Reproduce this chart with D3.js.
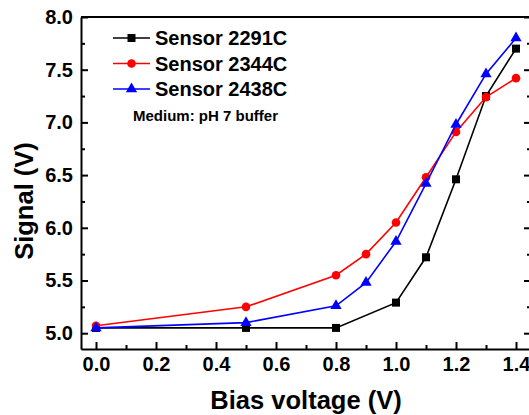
<!DOCTYPE html>
<html>
<head>
<meta charset="utf-8">
<script src="https://cdn.jsdelivr.net/npm/d3@7"></script>
<style>
  html, body { margin: 0; padding: 0; background: #fff; }
  svg { display: block; font-family: "Liberation Sans", Arial, sans-serif; font-weight: bold; }
  .axis path, .axis line { stroke: #000; stroke-width: 2; }
  .axis text { font-size: 20px; fill: #000; }
</style>
</head>
<body>
<svg id="chart" width="529" height="415"></svg>
<script>
// data
const biasBlack = [0.0, 0.5, 0.8, 1.0, 1.1, 1.2, 1.3, 1.4];
const sensor2291 = [5.05, 5.05, 5.05, 5.29, 5.72, 6.46, 7.25, 7.70];
const biasOther = [0.0, 0.5, 0.8, 0.9, 1.0, 1.1, 1.2, 1.3, 1.4];
const sensor2344 = [5.07, 5.25, 5.55, 5.75, 6.05, 6.48, 6.91, 7.24, 7.42];
const sensor2438 = [5.05, 5.10, 5.26, 5.48, 5.87, 6.42, 6.98, 7.46, 7.80];
const seriesNames = ["Sensor 2291C", "Sensor 2344C", "Sensor 2438C"];
const xTickValues = [0, 0.2, 0.4, 0.6, 0.8, 1.0, 1.2, 1.4];
const yTickValues = [5.0, 5.5, 6.0, 6.5, 7.0, 7.5, 8.0];

const svg = d3.select("#chart");
const margin = { left: 81, top: 17, right: 531, bottom: 349 };

const x = d3.scaleLinear().domain([-0.05, 1.45]).range([margin.left, margin.right]);
const y = d3.scaleLinear().domain([4.85, 8.0]).range([margin.bottom, margin.top]);

const xMinor = d3.range(0.1, 1.45, 0.2);
const yMinor = d3.range(5.25, 8.0, 0.5);
const fmt = d3.format(".1f");

// minor ticks
svg.append("g").attr("class", "axis").attr("transform", `translate(0,${margin.bottom})`)
  .call(d3.axisBottom(x).tickValues(xMinor).tickSize(-4).tickFormat(""))
  .call((g) => g.select(".domain").remove());
svg.append("g").attr("class", "axis").attr("transform", `translate(${margin.left},0)`)
  .call(d3.axisLeft(y).tickValues(yMinor).tickSize(-4).tickFormat(""))
  .call((g) => g.select(".domain").remove());
svg.append("g").attr("class", "axis").attr("transform", `translate(${margin.right},0)`)
  .call(d3.axisRight(y).tickValues(yMinor).tickSize(-4).tickFormat(""))
  .call((g) => g.select(".domain").remove());

// major ticks and labels
svg.append("g").attr("class", "axis").attr("transform", `translate(0,${margin.bottom})`)
  .call(d3.axisBottom(x).tickValues(xTickValues).tickSizeInner(-7).tickSizeOuter(0).tickPadding(8).tickFormat(fmt));
svg.append("g").attr("class", "axis").attr("transform", `translate(${margin.left},0)`)
  .call(d3.axisLeft(y).tickValues(yTickValues).tickSizeInner(-7).tickSizeOuter(0).tickPadding(8).tickFormat(fmt));
svg.append("g").attr("class", "axis").attr("transform", `translate(${margin.right},0)`)
  .call(d3.axisRight(y).tickValues(yTickValues).tickSizeInner(-7).tickSizeOuter(0).tickFormat(""));
svg.append("line")
  .attr("x1", margin.left).attr("x2", margin.right)
  .attr("y1", margin.top).attr("y2", margin.top)
  .attr("stroke", "#000").attr("stroke-width", 2);

// series
const series = [
  { name: seriesNames[0], xs: biasBlack, ys: sensor2291, color: "#000", symbol: d3.symbolSquare, size: 64 },
  { name: seriesNames[1], xs: biasOther, ys: sensor2344, color: "#ff0000", symbol: d3.symbolCircle, size: 58 },
  { name: seriesNames[2], xs: biasOther, ys: sensor2438, color: "#0000ff", symbol: d3.symbolTriangle, size: 55 },
];

const line = d3.line().x((d) => x(d[0])).y((d) => y(d[1]));

series.forEach((s) => {
  const pts = s.xs.map((v, i) => [v, s.ys[i]]);
  svg.append("path")
    .attr("d", line(pts))
    .attr("fill", "none")
    .attr("stroke", s.color)
    .attr("stroke-width", 1.6);
  svg.append("g").selectAll("path")
    .data(pts)
    .join("path")
    .attr("transform", (d) => `translate(${x(d[0])},${y(d[1])})`)
    .attr("d", d3.symbol().type(s.symbol).size(s.size))
    .attr("fill", s.color);
});

// legend
const legend = svg.append("g");
series.forEach((s, i) => {
  const ly = 38 + i * 25.5;
  legend.append("line")
    .attr("x1", 113).attr("x2", 150).attr("y1", ly).attr("y2", ly)
    .attr("stroke", s.color).attr("stroke-width", 1.6);
  legend.append("path")
    .attr("transform", `translate(131.5,${ly})`)
    .attr("d", d3.symbol().type(s.symbol).size(s.size))
    .attr("fill", s.color);
  legend.append("text")
    .attr("x", 155).attr("y", ly + 7)
    .attr("font-size", 20)
    .text(s.name);
});
legend.append("text")
  .attr("x", 133).attr("y", 121)
  .attr("font-size", 15)
  .text("Medium: pH 7 buffer");

// axis titles
svg.append("text")
  .attr("x", 306).attr("y", 409)
  .attr("text-anchor", "middle")
  .attr("font-size", 25.5)
  .text("Bias voltage (V)");
svg.append("text")
  .attr("transform", "translate(33,201) rotate(-90)")
  .attr("text-anchor", "middle")
  .attr("font-size", 25.5)
  .text("Signal (V)");
</script>
</body>
</html>
